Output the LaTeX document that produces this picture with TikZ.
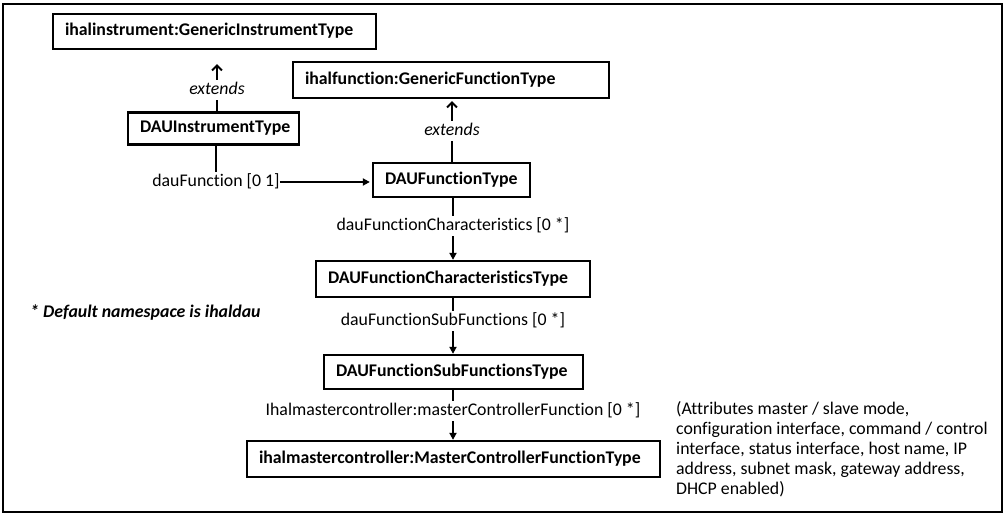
\documentclass[tikz,border=0pt]{standalone}
\usepackage{fontspec}
\setmainfont[Ligatures=NoCommon]{Carlito}
\usetikzlibrary{arrows.meta}
\newcommand\diagfont{\fontsize{17.8}{20}\selectfont}
\begin{document}
\begin{tikzpicture}[x=1pt,y=-1pt,
  typebox/.style={draw, line width=2.3pt, inner xsep=12pt, inner ysep=0pt,
    align=left, font=\bfseries\diagfont,
    text height=12.5pt, text depth=3.5pt},
  role/.style={inner sep=0pt, font=\diagfont,
    text height=12.5pt, text depth=3.5pt, minimum height=20pt},
  extlabel/.style={role, font=\itshape\diagfont},
  link/.style={line width=1.9pt},
  owns/.style={link, -{Triangle[length=7pt,width=7pt]}},
  extends/.style={link, -{Straight Barb[length=5pt,width=10pt,line width=1.9pt]}}
]
\useasboundingbox (0,0) rectangle (1005,518);
\draw[line width=2pt] (3,4) rectangle (1002,512);

% type boxes
\node[typebox, text width=299pt, minimum height=35pt] (gi) at (214.5,31.5)
  {ihalinstrument:GenericInstrumentType};
\node[typebox, text width=147pt, minimum height=32pt] (dinst) at (213.5,128.5)
  {DAUInstrumentType};
\node[typebox, text width=292pt, minimum height=36pt] (gf) at (451,80)
  {ihalfunction:GenericFunctionType};
\node[typebox, text width=133pt, minimum height=34pt] (dft) at (451.5,180)
  {DAUFunctionType};
\node[typebox, text width=250pt, minimum height=36pt] (dfc) at (453,279)
  {DAUFunctionCharacteristicsType};
\node[typebox, text width=235pt, minimum height=34pt] (dfs) at (453.5,372)
  {DAUFunctionSubFunctionsType};
\node[typebox, text width=389pt, minimum height=36pt] (mcf) at (453.5,459)
  {ihalmastercontroller:MasterControllerFunctionType};

% role and extension labels
\node[extlabel] (ext1) at (217,90) {extends};
\node[extlabel] (ext2) at (452,131) {extends};
\node[role] (rfun) at (216,182) {dauFunction [0 1]};
\node[role] (rchar) at (453,226) {dauFunctionCharacteristics [0 *]};
\node[role] (rsub) at (453,321) {dauFunctionSubFunctions [0 *]};
\node[role] (rmc) at (453,411) {Ihalmastercontroller:masterControllerFunction [0 *]};

% extension connectors
\draw[link] (dinst.north -| ext1.south) -- (ext1.south);
\draw[extends, shorten >=14pt] (ext1.north) -- (ext1.north |- gi.south);
\draw[link] (dft.north -| ext2.south) -- (ext2.south);
\draw[extends, shorten >=2pt] (ext2.north) -- (ext2.north |- gf.south);

% composition connectors
\draw[link] (dinst.south -| rfun.north) -- (rfun.north);
\draw[owns, shorten >=2pt] (rfun.east) -- (rfun.east -| dft.west);
\draw[link] (dft.south -| rchar.north) -- (rchar.north);
\draw[owns] (rchar.south) -- (rchar.south |- dfc.north);
\draw[link] (dfc.south -| rsub.north) -- (rsub.north);
\draw[owns] (rsub.south) -- (rsub.south |- dfs.north);
\draw[link] (dfs.south -| rmc.north) -- (rmc.north);
\draw[owns] (rmc.south) -- (rmc.south |- mcf.north);

% notes
\node[anchor=west, inner sep=0pt, font=\bfseries\itshape\diagfont]
  (ns) at (30,313) {* Default namespace is ihaldau};
\node[anchor=north west, inner sep=0pt, align=left, font=\diagfont] (attr) at (676,401)
  {(Attributes master / slave mode,\\
   configuration interface, command / control\\
   interface, status interface, host name, IP\\
   address, subnet mask, gateway address,\\
   DHCP enabled)};
\end{tikzpicture}
\end{document}
